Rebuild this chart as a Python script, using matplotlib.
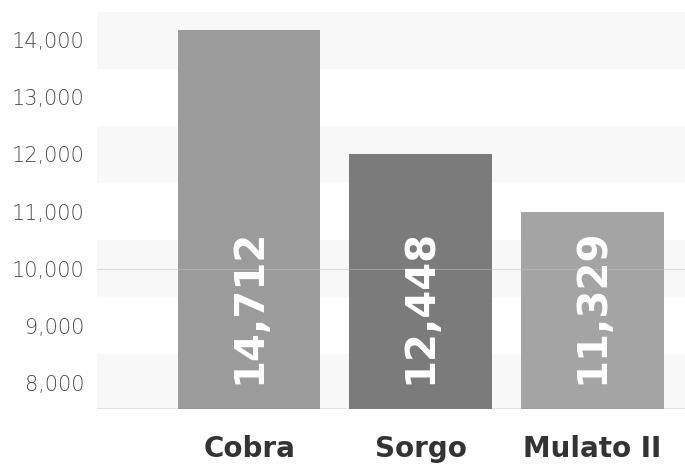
import matplotlib
matplotlib.use("Agg")
import matplotlib.pyplot as plt
from matplotlib.ticker import FuncFormatter

categories = ["Cobra", "Sorgo", "Mulato II"]
bar_heights = [14175, 12010, 11000]          # heights as drawn against the axis
value_labels = ["14,712", "12,448", "11,329"]  # printed labels
bar_colors = ["#9b9b9b", "#7b7b7b", "#a4a4a4"]
yticks = [8000, 9000, 10000, 11000, 12000, 13000, 14000]
band_centers = [8000, 10000, 12000, 14000]

fig = plt.figure(figsize=(6.85, 4.66), dpi=100)
ax = fig.add_axes([97/685, 1 - 409/466, (685 - 97)/685, (409 - 12)/466])

ymin, ymax = 7545, 14490
ax.set_ylim(ymin, ymax)
ax.set_xlim(-0.886, 2.54)

for c in band_centers:
    ax.axhspan(max(c - 500, ymin), c + 500, color="#f8f8f8", zorder=0, lw=0)

x = list(range(len(categories)))
ax.bar(x, [h - ymin for h in bar_heights], bottom=ymin, width=0.83,
       color=bar_colors, zorder=2)

ax.axhline(10000, color="#c0c0c0", lw=0.8, zorder=3, alpha=0.5)
ax.axhline(ymin + 5, color="#8a8a8a", lw=1.0, zorder=4)

for xi, lab in zip(x, value_labels):
    ax.text(xi, 7975, lab, rotation=90, ha="center", va="bottom",
            color="white", fontsize=29, fontweight="bold",
            family="DejaVu Sans", zorder=5)

ax.set_yticks(yticks)
ax.yaxis.set_major_formatter(FuncFormatter(lambda v, p: f"{int(v):,}"))
ax.tick_params(axis="y", length=0, pad=9, labelsize=15, labelcolor="#4a4a4a")
for t in ax.get_yticklabels():
    t.set_fontweight("light")

ax.set_xticks(x)
ax.set_xticklabels(categories)
ax.tick_params(axis="x", length=0, pad=19, labelsize=20, labelcolor="#333333")
for t in ax.get_xticklabels():
    t.set_fontweight("bold")

for s in ax.spines.values():
    s.set_visible(False)

fig.savefig("out.png", dpi=100)
